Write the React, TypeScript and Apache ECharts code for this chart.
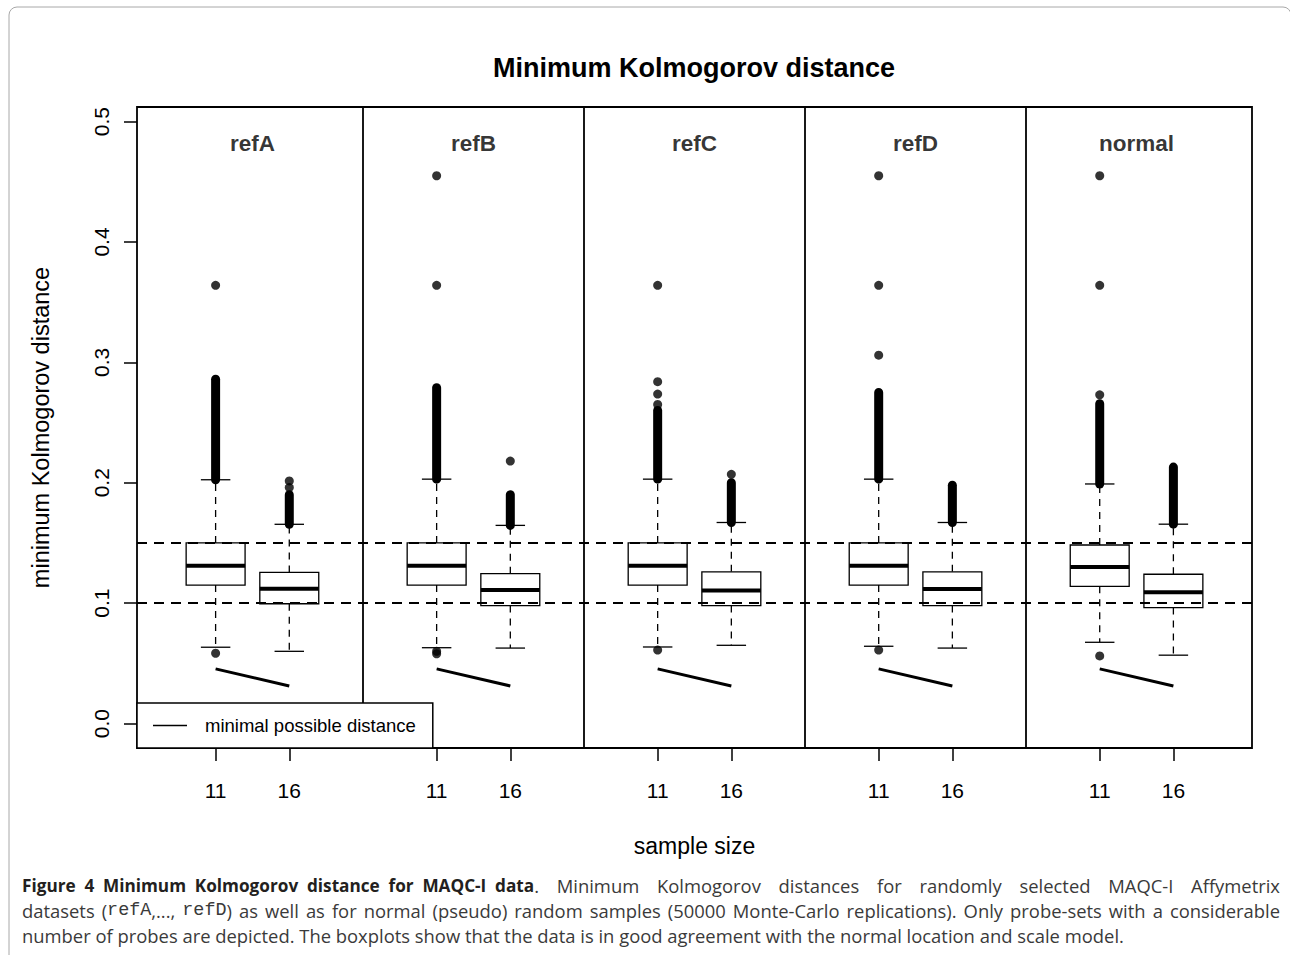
import React, { useEffect, useRef } from 'react';
import * as echarts from 'echarts';

// ---------- data ----------
const panels = ['refA', 'refB', 'refC', 'refD', 'normal'];
const sampleSizes = ['11', '16'];
const boxPositions = [1, 2, 4, 5, 7, 8, 10, 11, 13, 14];
const panelSeparators = [3, 6, 9, 12];
const panelCenters = [1.5, 4.5, 7.5, 10.5, 13.5];
const yTicks = [0, 0.1, 0.2, 0.3, 0.4, 0.5];

// [lower whisker, Q1, median, Q3, upper whisker]
const boxStats = [
  [0.0634, 0.115, 0.131, 0.150, 0.2025],
  [0.060, 0.0995, 0.112, 0.1255, 0.1655],
  [0.063, 0.115, 0.131, 0.150, 0.203],
  [0.0627, 0.098, 0.111, 0.1245, 0.1646],
  [0.0636, 0.115, 0.131, 0.150, 0.203],
  [0.065, 0.098, 0.1106, 0.126, 0.167],
  [0.0642, 0.115, 0.131, 0.150, 0.203],
  [0.0627, 0.098, 0.1117, 0.126, 0.167],
  [0.0675, 0.114, 0.130, 0.1483, 0.199],
  [0.0568, 0.0963, 0.109, 0.124, 0.1656],
];

// dense (overplotted) outlier columns: [from, to]
const denseOutlierRanges = [
  [0.2025, 0.286],
  [0.1655, 0.190],
  [0.203, 0.279],
  [0.1646, 0.190],
  [0.203, 0.260],
  [0.167, 0.200],
  [0.203, 0.275],
  [0.167, 0.198],
  [0.199, 0.2657],
  [0.1656, 0.213],
];

// separate outliers per box
const outlierValues = [
  [0.364, 0.0584],
  [0.2015, 0.196],
  [0.455, 0.364, 0.060, 0.058],
  [0.218],
  [0.364, 0.284, 0.2737, 0.265, 0.061],
  [0.207],
  [0.455, 0.364, 0.306, 0.061],
  [],
  [0.455, 0.364, 0.273, 0.0562],
  [],
];

const minimalDistance = [0.04545, 0.03125]; // n = 11, n = 16
const referenceLines = [0.1, 0.15];

// caption: [style, text] segments per line
const captionLine1a = [
  ['b', 'Figure 4 Minimum Kolmogorov distance for MAQC-I data'],
  ['r', '.'],
];
const captionLine1b = [['r', 'Minimum Kolmogorov distances for randomly selected MAQC-I Affymetrix']];
const captionLine2 = [
  ['r', 'datasets ('],
  ['m', 'refA'],
  ['r', ',..., '],
  ['m', 'refD'],
  ['r', ') as well as for normal (pseudo) random samples (50000 Monte-Carlo replications). Only probe-sets with a considerable'],
];
const captionLine3 = 'number of probes are depicted. The boxplots show that the data is in good agreement with the normal location and scale model.';

const FONT = '"Liberation Sans", Arial, Helvetica, sans-serif';
const CAPTION_FONT = '"Open Sans", "Noto Sans", sans-serif';
const MONO_FONT = '"Liberation Mono", "DejaVu Sans Mono", monospace';
const CAP_SIZE = 18.4;

const capStyles: Record<string, any> = {
  b: { fontFamily: CAPTION_FONT, fontSize: 17.2, fontWeight: 'bold', fill: '#231f20' },
  r: { fontFamily: CAPTION_FONT, fontSize: CAP_SIZE, fontWeight: 'normal', fill: '#3a3a3a' },
  m: { fontFamily: MONO_FONT, fontSize: CAP_SIZE, fontWeight: 'normal', fill: '#3a3a3a' },
};

function justifiedWords(segments: string[][], left: number, right: number, top: number, leadingGap = false) {
  const ctx = document.createElement('canvas').getContext('2d') as CanvasRenderingContext2D;
  const width = (t: string, s: string) => {
    const st = capStyles[s];
    ctx.font = `${st.fontWeight} ${st.fontSize}px ${st.fontFamily}`;
    return ctx.measureText(t).width;
  };
  const words: { pieces: string[][]; w: number }[] = [];
  let cur: string[][] = [];
  segments.forEach(([s, t]) => {
    const parts = t.split(' ');
    parts.forEach((p, i) => {
      if (i > 0) {
        if (cur.length) words.push({ pieces: cur, w: 0 });
        cur = [];
      }
      if (p.length) cur.push([s, p]);
    });
  });
  if (cur.length) words.push({ pieces: cur, w: 0 });
  words.forEach((wd) => {
    wd.w = wd.pieces.reduce((a, [s, t]) => a + width(t, s), 0);
  });
  const total = words.reduce((a, w) => a + w.w, 0);
  const nGaps = words.length - 1 + (leadingGap ? 1 : 0);
  const gap = (right - left - total) / Math.max(1, nGaps);
  let x = left + (leadingGap ? gap : 0);
  return words.map((wd) => {
    const el = {
      type: 'text',
      x,
      y: top + (wd.pieces[0][0] === 'b' ? 0.8 : 0),
      silent: true,
      style: {
        text: wd.pieces.map(([s, t]) => `{${s}|${t}}`).join(''),
        rich: capStyles,
        verticalAlign: 'top',
      },
    };
    x += wd.w + gap;
    return el;
  });
}

export default function App() {
  const ref = useRef<HTMLDivElement>(null);

  useEffect(() => {
    if (!ref.current) return;
    const chart = echarts.init(ref.current, undefined, { renderer: 'svg' });

    const boxData = boxPositions.map((p, i) => [p, ...boxStats[i]]);
    const denseData = boxPositions.map((p, i) => [p, ...denseOutlierRanges[i]]);
    const outlierData: number[][] = [];
    boxPositions.forEach((p, i) => outlierValues[i].forEach((v) => outlierData.push([p, v])));

    const renderBox = (params: any, api: any) => {
      const x = api.value(0);
      const pLo = api.coord([x, api.value(1)]);
      const pQ1 = api.coord([x, api.value(2)]);
      const pMed = api.coord([x, api.value(3)]);
      const pQ3 = api.coord([x, api.value(4)]);
      const pHi = api.coord([x, api.value(5)]);
      const w = api.size([0.8, 0])[0];
      const cx = pMed[0];
      const half = w / 2;
      const cap = w / 4;
      const stroke = '#000';
      return {
        type: 'group',
        children: [
          { type: 'line', shape: { x1: cx, y1: pQ3[1], x2: cx, y2: pHi[1] }, style: { stroke, lineWidth: 1.3, lineDash: [7, 6], fill: null } },
          { type: 'line', shape: { x1: cx, y1: pQ1[1], x2: cx, y2: pLo[1] }, style: { stroke, lineWidth: 1.3, lineDash: [7, 6], fill: null } },
          { type: 'line', shape: { x1: cx - cap, y1: pHi[1], x2: cx + cap, y2: pHi[1] }, style: { stroke, lineWidth: 1.3, fill: null } },
          { type: 'line', shape: { x1: cx - cap, y1: pLo[1], x2: cx + cap, y2: pLo[1] }, style: { stroke, lineWidth: 1.3, fill: null } },
          { type: 'rect', shape: { x: cx - half, y: pQ3[1], width: w, height: pQ1[1] - pQ3[1] }, style: { fill: '#fff', stroke, lineWidth: 1.3 } },
          { type: 'line', shape: { x1: cx - half, y1: pMed[1], x2: cx + half, y2: pMed[1] }, style: { stroke, lineWidth: 4, fill: null } },
        ],
      };
    };

    const renderDense = (params: any, api: any) => {
      const x = api.value(0);
      const a = api.coord([x, api.value(1)]);
      const b = api.coord([x, api.value(2)]);
      const r = 4.5;
      return {
        type: 'rect',
        shape: { x: a[0] - r, y: b[1] - r, width: 2 * r, height: a[1] - b[1] + 2 * r, r },
        style: { fill: '#000' },
      };
    };

    const lineSeries = panels.map((p, k) => ({
      type: 'line',
      name: 'minimal possible distance',
      data: minimalDistance.map((v, j) => [boxPositions[2 * k + j], v]),
      symbol: 'none',
      lineStyle: { color: '#000', width: 3 },
      itemStyle: { color: '#000' },
      z: 3,
      silent: true,
    }));

    const captionElements = [
      ...justifiedWords(captionLine1a, 22, 539, 876),
      ...justifiedWords(captionLine1b, 539, 1280, 876, true),
      ...justifiedWords(captionLine2, 22, 1280, 901),
      {
        type: 'text',
        x: 22,
        y: 926,
        silent: true,
        style: { text: captionLine3, ...capStyles.r, verticalAlign: 'top' },
      },
    ];

    const option: any = {
      animation: false,
      backgroundColor: '#fff',
      textStyle: { fontFamily: FONT },
      title: {
        text: 'Minimum Kolmogorov distance',
        left: 689,
        top: 49,
        textAlign: 'center',
        textStyle: { fontSize: 27, fontWeight: 'bold', color: '#000', fontFamily: FONT },
      },
      legend: {
        data: [{ name: 'minimal possible distance', icon: 'rect' }],
        left: 137,
        top: 703,
        orient: 'horizontal',
        selectedMode: false,
        backgroundColor: '#fff',
        borderColor: '#000',
        borderWidth: 1.5,
        borderRadius: 0,
        padding: [12, 17, 12, 16],
        itemWidth: 34,
        itemHeight: 1.6,
        itemStyle: { color: '#000' },
        textStyle: { fontSize: 18.5, color: '#000', fontFamily: FONT, padding: [0, 0, 0, 13], lineHeight: 21 },
        z: 10,
      },
      grid: {
        left: 137,
        top: 107,
        width: 1115,
        height: 641,
        show: true,
        borderColor: '#000',
        borderWidth: 1.8,
        backgroundColor: 'transparent',
        containLabel: false,
      },
      xAxis: {
        type: 'value',
        min: -0.067,
        max: 15.067,
        axisLine: { show: false, onZero: false },
        splitLine: { show: false },
        axisTick: { show: true, inside: false, length: 13, lineStyle: { color: '#000', width: 1.5 }, customValues: boxPositions },
        axisLabel: {
          customValues: boxPositions,
          formatter: (v: number) => {
            const i = boxPositions.indexOf(v);
            return i >= 0 ? sampleSizes[i % 2] : '';
          },
          fontSize: 21,
          color: '#000',
          margin: 32,
          fontFamily: FONT,
        },
        name: 'sample size',
        nameLocation: 'middle',
        nameGap: 86,
        nameTextStyle: { fontSize: 23, color: '#000', fontFamily: FONT },
      },
      yAxis: {
        type: 'value',
        min: -0.0203,
        max: 0.5121,
        axisLine: { show: false, onZero: false },
        splitLine: { show: false },
        axisTick: { show: true, inside: false, length: 13, lineStyle: { color: '#000', width: 1.5 }, customValues: yTicks },
        axisLabel: {
          customValues: yTicks,
          rotate: 90,
          formatter: (v: number) => v.toFixed(1),
          fontSize: 21,
          color: '#000',
          margin: 25,
          fontFamily: FONT,
        },
        name: 'minimum Kolmogorov distance',
        nameLocation: 'middle',
        nameRotate: 90,
        nameGap: 84,
        nameTextStyle: { fontSize: 23.5, color: '#000', fontFamily: FONT },
      },
      series: [
        {
          type: 'custom',
          name: 'boxes',
          renderItem: renderBox,
          data: boxData,
          encode: { x: 0, y: [1, 2, 3, 4, 5] },
          z: 2,
          silent: true,
        },
        {
          type: 'custom',
          name: 'dense outliers',
          renderItem: renderDense,
          data: denseData,
          encode: { x: 0, y: [1, 2] },
          z: 2,
          silent: true,
        },
        {
          type: 'scatter',
          name: 'outliers',
          data: outlierData,
          symbol: 'circle',
          symbolSize: 9,
          itemStyle: { color: '#000' },
          z: 2,
          silent: true,
        },
        ...lineSeries,
        {
          type: 'scatter',
          name: 'panels',
          data: panelCenters.map((c, i) => ({ value: [c, 0.482], name: panels[i] })),
          symbolSize: 0,
          label: {
            show: true,
            position: 'inside',
            formatter: '{b}',
            fontSize: 22.5,
            fontWeight: 'bold',
            color: '#000',
            fontFamily: FONT,
          },
          silent: true,
          markLine: {
            silent: true,
            symbol: ['none', 'none'],
            label: { show: false },
            lineStyle: { color: '#000', type: 'solid', width: 1.8 },
            data: panelSeparators.map((v) => ({ xAxis: v })),
          },
          z: 4,
        },
        {
          type: 'line',
          name: 'reference',
          data: [],
          markLine: {
            silent: true,
            symbol: ['none', 'none'],
            label: { show: false },
            lineStyle: { color: '#000', type: [10, 7], width: 2 },
            data: referenceLines.map((v) => ({ yAxis: v })),
          },
          z: 5,
        },
      ],
      graphic: [
        {
          type: 'rect',
          shape: { x: 9, y: 7, width: 1282, height: 1000, r: 8 },
          style: { fill: 'none', stroke: '#a8a8a8', lineWidth: 1 },
          silent: true,
          z: -1,
        },
        ...captionElements,
      ],
    };

    chart.setOption(option);
    return () => chart.dispose();
  }, []);

  return <div ref={ref} style={{ position: 'absolute', left: 0, top: 0, width: 1290, height: 955 }} />;
}
